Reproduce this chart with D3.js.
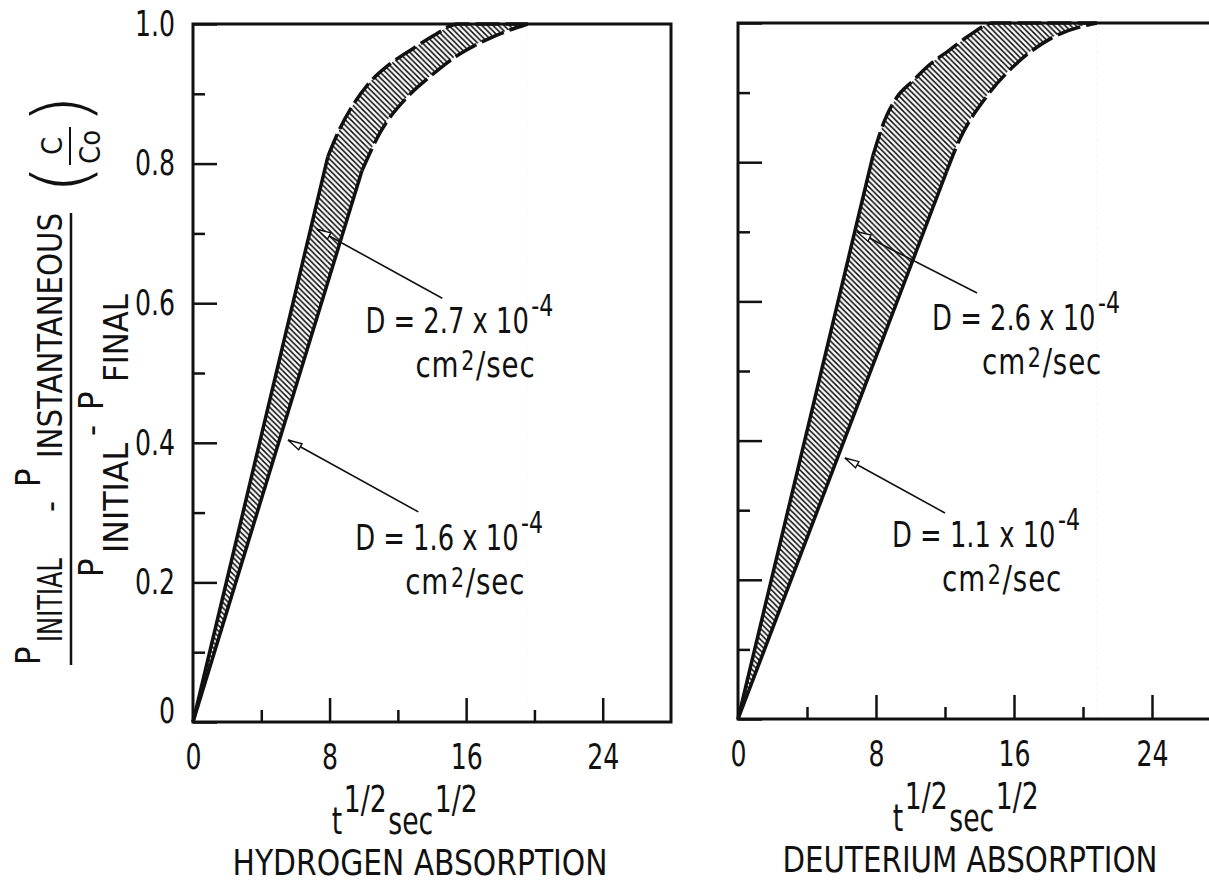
<!DOCTYPE html>
<html>
<head>
<meta charset="utf-8">
<script src="https://cdn.jsdelivr.net/npm/d3@7"></script>
<style>
  body { margin: 0; background: #fff; }
  svg { display: block; font-family: 'Liberation Sans Narrow', 'DejaVu Sans Condensed', sans-serif; }
  text { fill: #111; }
</style>
</head>
<body>
<svg id="chart"></svg>
<script>
// tick values
const xMajor = [0, 8, 16, 24];
const xMinor = [4, 12, 20];
const yMajor = [0, 0.2, 0.4, 0.6, 0.8, 1.0];
const yMinor = [0.1, 0.3, 0.5, 0.7, 0.9];

// hydrogen band as [t^1/2, C/Co]
const h2FastLine = [[0, 0], [7.9, 0.81]];
const h2FastCurve = [[7.9, 0.81], [8.6, 0.85], [9.4, 0.885], [10.3, 0.915], [11.5, 0.942], [12.9, 0.965], [14.2, 0.985], [15.5, 1.0], [19.6, 1.0]];
const h2SlowLine = [[0, 0], [9.9, 0.79]];
const h2SlowCurve = [[9.9, 0.79], [10.95, 0.844], [12.54, 0.895], [13.9, 0.925], [15.5, 0.955], [17.6, 0.982], [19.6, 1.0]];

// deuterium band
const d2FastLine = [[0, 0], [7.83, 0.81]];
const d2FastCurve = [[7.83, 0.81], [8.5, 0.86], [9.2, 0.893], [10.1, 0.916], [11.1, 0.94], [12.2, 0.96], [13.4, 0.982], [14.8, 1.0], [20.8, 1.0]];
const d2SlowLine = [[0, 0], [12.1, 0.787]];
const d2SlowCurve = [[12.1, 0.787], [12.8, 0.83], [14.4, 0.894], [16.2, 0.943], [18.3, 0.98], [20.8, 1.0]];

// diffusion coefficients, x 10^-4 cm^2/sec
const h2Labels = ["2.7", "1.6"];
const d2Labels = ["2.6", "1.1"];
const panelNames = ["HYDROGEN ABSORPTION", "DEUTERIUM ABSORPTION"];

const width = 1209;
const height = 882;
const ink = "#111";

const svg = d3.select("#chart")
  .attr("width", width)
  .attr("height", height);

// the original lettering is a narrow condensed face, so squeeze the glyphs
function squeeze(sel, k) {
  sel.each(function() {
    const w = this.getComputedTextLength();
    if (w > 0) d3.select(this).attr("textLength", w * k).attr("lengthAdjust", "spacingAndGlyphs");
  });
  return sel;
}

const defs = svg.append("defs");
defs.append("pattern")
  .attr("id", "hatch")
  .attr("patternUnits", "userSpaceOnUse")
  .attr("width", 5.5)
  .attr("height", 5.5)
  .append("path")
  .attr("d", "M-1,-1 L6.5,6.5 M-1,4.5 L1,6.5 M4.5,-1 L6.5,1")
  .attr("stroke", ink)
  .attr("stroke-width", 1.6);

defs.append("marker")
  .attr("id", "head")
  .attr("viewBox", "0 0 16 9")
  .attr("refX", 15)
  .attr("refY", 4.5)
  .attr("markerWidth", 16)
  .attr("markerHeight", 9)
  .attr("markerUnits", "userSpaceOnUse")
  .attr("orient", "auto")
  .append("path")
  .attr("d", "M1,1 L15,4.5 L1,8 Z")
  .attr("fill", "#fff")
  .attr("stroke", ink)
  .attr("stroke-width", 1.4);

function drawPanel(cfg) {
  const x = d3.scaleLinear().domain([0, 28]).range(cfg.xRange);
  const y = d3.scaleLinear().domain([0, 1]).range(cfg.yRange);
  const g = svg.append("g");

  const areaLin = d3.area().x(d => x(d[0])).y0(y(0)).y1(d => y(d[1]));
  const areaMono = d3.area().x(d => x(d[0])).y0(y(0)).y1(d => y(d[1])).curve(d3.curveMonotoneX);
  const lineLin = d3.line().x(d => x(d[0])).y(d => y(d[1]));
  const lineMono = d3.line().x(d => x(d[0])).y(d => y(d[1])).curve(d3.curveMonotoneX);

  // band = hatch under the fast curve, then blank out what is under the slow one
  g.append("path").attr("d", areaLin(cfg.fastLine)).attr("fill", "url(#hatch)");
  g.append("path").attr("d", areaMono(cfg.fastCurve)).attr("fill", "url(#hatch)");
  g.append("path").attr("d", areaLin(cfg.slowLine)).attr("fill", "#fff").attr("stroke", "#fff");
  g.append("path").attr("d", areaMono(cfg.slowCurve)).attr("fill", "#fff").attr("stroke", "#fff");

  [cfg.fastLine, cfg.slowLine].forEach(d => {
    g.append("path").attr("d", lineLin(d))
      .attr("fill", "none").attr("stroke", ink).attr("stroke-width", 3.5);
  });
  [cfg.fastCurve, cfg.slowCurve].forEach(d => {
    g.append("path").attr("d", lineMono(d))
      .attr("fill", "none").attr("stroke", ink).attr("stroke-width", 3.5)
      .attr("stroke-dasharray", "24,6");
  });

  // frame
  g.append("rect")
    .attr("x", x(0)).attr("y", y(1))
    .attr("width", x(28) - x(0)).attr("height", y(0) - y(1))
    .attr("fill", "none").attr("stroke", ink).attr("stroke-width", 3);

  // x axis, ticks pointing in
  const xAxis = g.append("g")
    .attr("transform", `translate(0,${y(0)})`)
    .call(d3.axisBottom(x).tickValues(xMajor).tickSize(-24).tickPadding(22).tickFormat(d3.format("d")));
  const xMinorAxis = g.append("g")
    .attr("transform", `translate(0,${y(0)})`)
    .call(d3.axisBottom(x).tickValues(xMinor).tickSize(-12).tickFormat(""));

  // y axis
  const yAxis = g.append("g")
    .attr("transform", `translate(${x(0)},0)`)
    .call(d3.axisLeft(y).tickValues(yMajor).tickSize(-24).tickPadding(18)
      .tickFormat(cfg.showY ? (d => d === 0 ? "0" : d3.format(".1f")(d)) : ""));
  const yMinorAxis = g.append("g")
    .attr("transform", `translate(${x(0)},0)`)
    .call(d3.axisLeft(y).tickValues(yMinor).tickSize(-12).tickFormat(""));

  [xAxis, xMinorAxis, yAxis, yMinorAxis].forEach(a => {
    a.attr("font-family", null).attr("font-size", 35).attr("color", ink);
    a.select(".domain").remove();
    a.selectAll(".tick line").attr("stroke-width", 2.5);
    squeeze(a.selectAll(".tick text"), 0.8);
  });
  xAxis.selectAll(".tick line").filter(d => d === 0).remove();
  yAxis.selectAll(".tick text").filter(d => d === 0).attr("dy", "0");

  // annotations with arrows
  cfg.notes.forEach((n, i) => {
    g.append("line")
      .attr("x1", x(n.tail[0])).attr("y1", y(n.tail[1]))
      .attr("x2", x(n.tip[0])).attr("y2", y(n.tip[1]))
      .attr("stroke", ink).attr("stroke-width", 1.6)
      .attr("marker-end", "url(#head)");
    const tx = x(n.at[0]);
    const ty = y(n.at[1]);
    const t1 = g.append("text")
      .attr("transform", `translate(${tx},${ty}) scale(0.82,1)`)
      .attr("font-size", 35);
    t1.append("tspan").text(`D = ${cfg.labels[i]} x 10`);
    t1.append("tspan").attr("dx", 3).attr("dy", -17).attr("font-size", 30).text("-4");
    const t2 = g.append("text")
      .attr("transform", `translate(${tx + 50},${ty + 44}) scale(0.88,1)`)
      .attr("font-size", 35).attr("letter-spacing", 1);
    t2.append("tspan").text("cm");
    t2.append("tspan").attr("dx", 2).attr("dy", -7).attr("font-size", 26).text("2");
    t2.append("tspan").attr("dx", 1).attr("dy", 7).text("/sec");
  });

  // axis title + panel name
  const tt = g.append("text")
    .attr("transform", `translate(${x(cfg.titleX)},${y(0) + 112}) scale(0.8,1)`)
    .attr("text-anchor", "middle").attr("font-size", 37);
  tt.append("tspan").text("t");
  tt.append("tspan").attr("dx", 2).attr("dy", -22).text("1/2");
  tt.append("tspan").attr("dx", 2).attr("dy", 22).text("sec");
  tt.append("tspan").attr("dx", 2).attr("dy", -22).text("1/2");

  g.append("text")
    .attr("x", x(cfg.nameX)).attr("y", y(0) + 153)
    .attr("text-anchor", "middle").attr("font-size", 36)
    .attr("textLength", 375).attr("lengthAdjust", "spacingAndGlyphs")
    .text(cfg.name);
}

drawPanel({
  xRange: [193, 671], yRange: [722, 24],
  fastLine: h2FastLine, fastCurve: h2FastCurve,
  slowLine: h2SlowLine, slowCurve: h2SlowCurve,
  labels: h2Labels, name: panelNames[0], showY: true,
  titleX: 12.4, nameX: 13.3,
  notes: [
    { tip: [7.26, 0.706], tail: [14.6, 0.607], at: [10.1, 0.557] },
    { tip: [5.57, 0.404], tail: [13.2, 0.301], at: [9.5, 0.246] }
  ]
});

drawPanel({
  xRange: [738, 1221], yRange: [719, 23],
  fastLine: d2FastLine, fastCurve: d2FastCurve,
  slowLine: d2SlowLine, slowCurve: d2SlowCurve,
  labels: d2Labels, name: panelNames[1], showY: false,
  titleX: 13.2, nameX: 13.45,
  notes: [
    { tip: [6.9, 0.70], tail: [13.86, 0.612], at: [11.25, 0.559] },
    { tip: [6.2, 0.375], tail: [12.0, 0.296], at: [8.93, 0.247] }
  ]
});

// y axis title (rotated fraction), left panel only
const yt = svg.append("g")
  .attr("transform", "translate(71,0) rotate(-90)")
  .attr("font-size", 34);

const piece = (txt, lx, ly, len, size) => {
  const t = yt.append("text").attr("x", lx).attr("y", ly).text(txt);
  if (len) t.attr("textLength", len).attr("lengthAdjust", "spacingAndGlyphs");
  if (size) t.attr("font-size", size);
  return t;
};

// numerator
piece("P", -665, -31);
piece("INITIAL", -642, -9, 84);
piece("-", -512, -9);
piece("P", -487, -31);
piece("INSTANTANEOUS", -458, -9, 245);
// denominator
piece("P", -577, 32);
piece("INITIAL", -553, 57, 110);
piece("-", -436, 32);
piece("P", -410, 32);
piece("FINAL", -382, 57, 88);

yt.append("line")
  .attr("x1", -665).attr("x2", -213)
  .attr("y1", 0).attr("y2", 0)
  .attr("stroke", ink).attr("stroke-width", 2.5);

// (C / Co)
piece("(", -194, 16, null, 76).attr("font-family", "'DejaVu Sans'").attr("font-weight", 200);
piece(")", -124, 16, null, 76).attr("font-family", "'DejaVu Sans'").attr("font-weight", 200);
piece("C", -146, -9, null, 29).attr("text-anchor", "middle");
piece("Co", -147, 29, null, 29).attr("text-anchor", "middle");
yt.append("line")
  .attr("x1", -165).attr("x2", -127)
  .attr("y1", -1).attr("y2", -1)
  .attr("stroke", ink).attr("stroke-width", 2);
</script>
</body>
</html>
